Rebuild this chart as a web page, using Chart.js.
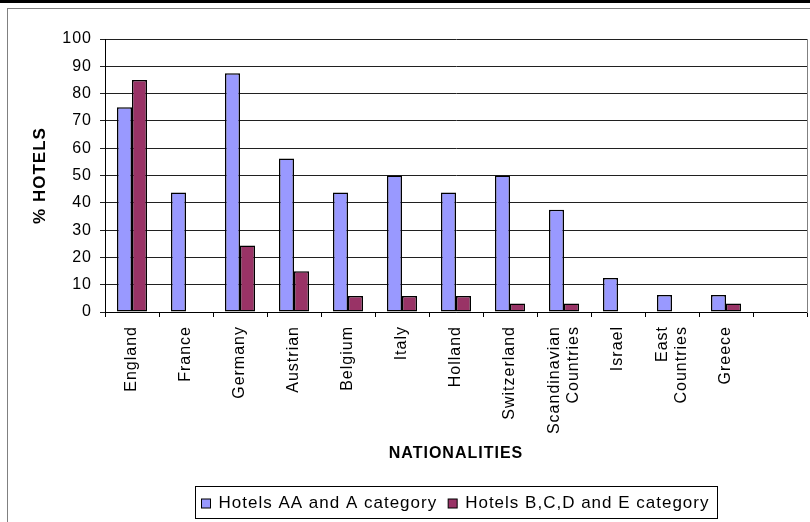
<!DOCTYPE html>
<html>
<head>
<meta charset="utf-8">
<script src="https://cdn.jsdelivr.net/npm/chart.js@4/dist/chart.umd.min.js"></script>
<style>
  html, body { margin: 0; padding: 0; background: #fff; }
  #wrap { position: relative; width: 810px; height: 522px; overflow: hidden; }
  #topline { position: absolute; left: 0; top: 0; width: 810px; height: 3px; background: #000; }
  #frame { position: absolute; left: 7px; top: 8px; width: 820px; height: 600px;
           border-top: 1px solid #808080; border-left: 1px solid #808080; }
  canvas { position: absolute; left: 0; top: 0; }
</style>
</head>
<body>
<div id="wrap">
  <div id="topline"></div>
  <div id="frame"></div>
  <canvas id="chart" width="810" height="522"></canvas>
</div>
<script>
// nationalities (last slot is empty, as in the original sheet)
const nationalities = ['England', 'France', 'Germany', 'Austrian', 'Belgium', 'Italy', 'Holland',
  'Switzerland', ['Scandinavian', 'Countries'], 'Israel', ['East', 'Countries'], 'Greece', ''];

// % of hotels
const hotelsAA = [75, 43.75, 87.5, 56.25, 43.75, 50, 43.75, 50, 37.5, 12.5, 6.25, 6.25, null];
const hotelsBCDE = [85, 0, 24.4, 14.9, 5.9, 5.9, 5.9, 3.1, 3.1, 0, 0, 3.1, null];

const yTicks = { min: 0, max: 100, step: 10 };

const seriesNames = ['Hotels AA and A category', 'Hotels B,C,D and E category'];
const seriesColors = ['#9999FF', '#993366'];

Chart.defaults.font.family = 'Arial, "Liberation Sans", sans-serif';
Chart.defaults.color = '#000';

// Excel-ish wide text
const spacing = {
  id: 'spacing',
  beforeUpdate(chart) { chart.ctx.letterSpacing = '1px'; },
  beforeDraw(chart) { chart.ctx.letterSpacing = '1px'; }
};

// center two-line rotated labels on their category
const centerLabels = {
  id: 'centerLabels',
  beforeDraw(chart) {
    const s = chart.scales.x;
    const items = s.getLabelItems(chart.chartArea);
    if (items._done) return;
    items.forEach(it => {
      if (Array.isArray(it.label) && it.label.length > 1) {
        it.options.translation[0] -= (it.label.length - 1) * it.font.lineHeight / 2;
      }
    });
    items._done = true;
  }
};

const frame = {
  id: 'frame',
  afterDraw(chart) {
    const { ctx, chartArea: a } = chart;
    ctx.save();
    ctx.strokeStyle = '#808080';
    ctx.lineWidth = 1;
    ctx.beginPath();
    ctx.moveTo(a.right + 0.5, a.top);
    ctx.lineTo(a.right + 0.5, a.bottom + 1);
    ctx.stroke();

    // legend box
    ctx.font = '17px Arial, "Liberation Sans", sans-serif';
    ctx.letterSpacing = '1px';
    const sw = 9, gapText = 8, gapItem = 11, padL = 6, padR = 8;
    const widths = chart.data.datasets.map(d => ctx.measureText(d.label).width);
    const total = padL + padR + widths.reduce((s, w) => s + w + sw + gapText, 0) + gapItem * (widths.length - 1);
    const cx = (a.left + a.right) / 2;
    const top = 486, h = 32;
    let x = Math.round(cx - total / 2) + 0.5;
    ctx.strokeStyle = '#000';
    ctx.strokeRect(x, top + 0.5, Math.round(total), h);
    x += padL;
    const mid = top + h / 2;
    chart.data.datasets.forEach((d, i) => {
      ctx.fillStyle = d.backgroundColor;
      ctx.fillRect(x, mid - 3, sw, sw);
      ctx.strokeRect(x, mid - 3, sw, sw);
      ctx.fillStyle = '#000';
      ctx.textBaseline = 'middle';
      ctx.textAlign = 'left';
      ctx.fillText(d.label, x + sw + gapText, mid + 1);
      x += sw + gapText + widths[i] + gapItem;
    });
    ctx.restore();
  }
};

new Chart(document.getElementById('chart'), {
  type: 'bar',
  data: {
    labels: nationalities,
    datasets: [
      { label: seriesNames[0], data: hotelsAA, backgroundColor: seriesColors[0] },
      { label: seriesNames[1], data: hotelsBCDE, backgroundColor: seriesColors[1] }
    ]
  },
  options: {
    responsive: false,
    animation: false,
    events: [],
    layout: { padding: { left: 0, top: 39, right: 3, bottom: 0 } },
    datasets: {
      bar: {
        categoryPercentage: 30 / 54,
        barPercentage: 1,
        borderColor: '#000',
        borderWidth: 1.5,
        borderSkipped: false
      }
    },
    plugins: {
      legend: { display: false },
      tooltip: { enabled: false }
    },
    scales: {
      x: {
        offset: true,
        grid: { offset: true, drawOnChartArea: false, color: '#000', tickLength: 5 },
        border: { color: '#000', width: 1 },
        ticks: {
          autoSkip: false, maxRotation: 90, minRotation: 90, padding: 9,
          font: { size: 16 }, color: '#000'
        },
        title: {
          display: true, text: 'NATIONALITIES',
          font: { size: 16, weight: 'bold' }, color: '#000',
          padding: { top: 0, bottom: 59 }
        },
        afterFit(s) { s.height = 210; }
      },
      y: {
        min: yTicks.min, max: yTicks.max,
        ticks: { stepSize: yTicks.step, padding: 8, font: { size: 16 }, color: '#000' },
        grid: { color: '#202020', tickLength: 5 },
        border: { color: '#000', width: 1 },
        title: {
          display: true, text: '% HOTELS',
          font: { size: 17, weight: 'bold' }, color: '#000',
          padding: { top: 30, bottom: 0 }
        },
        afterFit(s) { s.width = 105; }
      }
    }
  },
  plugins: [spacing, centerLabels, frame]
});
</script>
</body>
</html>
